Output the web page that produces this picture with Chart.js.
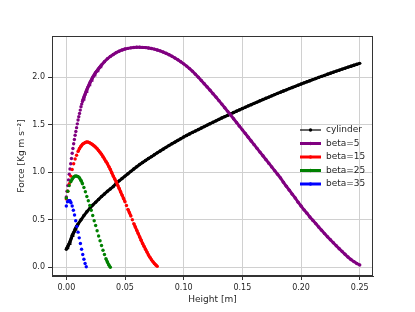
<!DOCTYPE html>
<html>
<head>
<meta charset="utf-8">
<script src="https://cdn.jsdelivr.net/npm/chart.js@4.4.1/dist/chart.umd.min.js"></script>
<style>
html,body{margin:0;padding:0;background:#fff;}
canvas{display:block;}
</style>
</head>
<body>
<canvas id="c" width="415" height="312" style="width:415px;height:312px"></canvas>
<script>
// ---- data (height in m, force in Kg m s^-2) ----
const xTicks = [0.00, 0.05, 0.10, 0.15, 0.20, 0.25];
const yTicks = [0.0, 0.5, 1.0, 1.5, 2.0];
const seriesNames = ["cylinder", "beta=5", "beta=15", "beta=25", "beta=35"];

// cylinder: dense (0.000625 m) up to 0.01, then every 0.0025 m to 0.25
const cylinderStepA = 0.000625;
const cylinderForceA = [0.19,0.205,0.22,0.235,0.25,0.27,0.29,0.31,0.335,0.35,0.365,0.38,0.40,0.415,0.43,0.443];
const cylinderStartB = 0.01;
const cylinderStepB = 0.0025;
const cylinderForceB = [0.455,0.50,0.545,0.585,0.62,0.655,0.685,0.715,0.745,0.772,0.80,0.825,0.85,0.885,0.91,0.935,0.96,
0.985,1.01,1.035,1.058,1.082,1.103,1.124,1.145,1.165,1.185,1.205,1.225,1.244,1.263,1.282,1.30,1.318,1.336,1.354,1.372,
1.388,1.404,1.42,1.435,1.45,1.466,1.481,1.497,1.512,1.527,1.542,1.557,1.572,1.586,1.60,1.615,1.629,1.643,1.657,1.671,
1.685,1.699,1.712,1.726,1.739,1.753,1.766,1.779,1.792,1.805,1.818,1.831,1.843,1.856,1.868,1.881,1.893,1.905,1.917,1.929,
1.941,1.953,1.964,1.976,1.987,1.999,2.01,2.021,2.032,2.043,2.054,2.065,2.075,2.086,2.096,2.107,2.117,2.127,2.137,2.147];

// beta=5: dense (0.000625 m) up to 0.03, then every 0.0025 m to 0.25
const beta5StepA = 0.000625;
const beta5ForceA = [0.74,0.80,0.86,0.92,0.98,1.035,1.09,1.145,1.20,1.25,1.30,1.345,1.39,1.43,1.47,1.51,1.55,1.585,1.62,1.655,
1.69,1.718,1.745,1.768,1.79,1.81,1.83,1.85,1.87,1.888,1.905,1.922,1.94,1.955,1.97,1.985,2.00,2.013,2.025,2.038,
2.05,2.06,2.07,2.08,2.09,2.10,2.11,2.12];
const beta5StartB = 0.03;
const beta5StepB = 0.0025;
const beta5ForceB = [2.13,2.165,2.195,2.22,2.24,2.26,2.275,2.288,2.298,2.305,
2.31,2.314,2.316,2.316,2.315,2.313,2.309,2.304,2.297,2.288,
2.278,2.266,2.253,2.238,2.222,2.204,2.185,2.164,2.142,2.118,
2.092,2.064,2.032,2.0,1.967,1.933,1.899,1.864,1.828,1.792,
1.755,1.718,1.68,1.642,1.603,1.564,1.525,1.486,1.447,1.408,
1.369,1.33,1.291,1.252,1.213,1.174,1.135,1.096,1.057,1.018,
0.979,0.94,0.895,0.853,0.812,0.77,0.73,0.685,0.645,0.605,
0.57,0.53,0.495,0.46,0.425,0.39,0.355,0.322,0.29,0.258,
0.227,0.196,0.166,0.137,0.108,0.082,0.06,0.04,0.024];

// beta=15, 25: every 0.00125 m from 0; beta=35: every 0.001 m
const beta15Step = 0.00125;
const beta15Force = [0.72,0.80,0.88,0.96,1.03,1.09,1.14,1.18,1.22,1.25,1.275,1.295,1.305,1.315,1.32,1.318,1.31,1.30,1.29,1.278,
1.265,1.248,1.23,1.21,1.19,1.165,1.14,1.115,1.09,1.06,1.03,0.995,0.96,0.93,0.90,0.865,0.83,0.795,0.76,0.725,
0.69,0.65,0.61,0.575,0.54,0.50,0.46,0.425,0.39,0.355,0.32,0.285,0.25,0.22,0.19,0.16,0.13,0.105,0.08,0.06,
0.04,0.025,0.01];
const beta25Step = 0.00125;
const beta25Force = [0.73,0.80,0.86,0.90,0.93,0.95,0.96,0.96,0.955,0.94,0.915,0.88,0.84,0.795,0.745,0.70,
0.65,0.60,0.545,0.49,0.44,0.385,0.33,0.28,0.23,0.18,0.135,0.09,0.055,0.025,0.0];
const beta35Step = 0.001;
const beta35Force = [0.645,0.69,0.70,0.70,0.68,0.645,0.60,0.55,0.49,0.43,0.37,0.31,0.25,0.19,0.135,0.085,0.04,0.005];

const colors = ["#000000", "#800080", "#ff0000", "#008000", "#0000ff"];

// ---- build points ----
function pts(ys, start, step) { return ys.map((y, i) => ({x: start + i * step, y: y})); }
const cylinderPts = pts(cylinderForceA, 0, cylinderStepA).concat(pts(cylinderForceB, cylinderStartB, cylinderStepB));
const beta5Pts = pts(beta5ForceA, 0, beta5StepA).concat(pts(beta5ForceB, beta5StartB, beta5StepB));
const beta15Pts = pts(beta15Force, 0, beta15Step);
const beta25Pts = pts(beta25Force, 0, beta25Step);
const beta35Pts = pts(beta35Force, 0, beta35Step);
const allPts = [cylinderPts, beta5Pts, beta15Pts, beta25Pts, beta35Pts];

// steep segments: show markers only (gaps between dots)
function steep(ctx) {
  const dx = Math.abs(ctx.p1.x - ctx.p0.x), dy = Math.abs(ctx.p1.y - ctx.p0.y);
  return dy > 2.4 * Math.max(dx, 0.01) && dy > 2.5;
}

const datasets = allPts.map((d, i) => ({
  label: seriesNames[i],
  data: d,
  showLine: true,
  borderColor: colors[i],
  backgroundColor: colors[i],
  borderWidth: 3,
  pointRadius: 1.7,
  pointBorderWidth: 0,
  pointBackgroundColor: colors[i],
  pointHoverRadius: 0,
  order: 5 - i,
  segment: { borderColor: ctx => steep(ctx) ? 'rgba(0,0,0,0)' : undefined }
}));

const FONT = "'DejaVu Sans', sans-serif";
const TXT = "#262626";

const framePlugin = {
  id: 'frame',
  afterDraw(chart) {
    const {ctx, chartArea: a} = chart;
    ctx.save();
    ctx.strokeStyle = '#333';
    ctx.lineWidth = 1;
    ctx.strokeRect(Math.round(a.left) + 0.5, Math.round(a.top) + 0.5, Math.round(a.right - a.left) - 1, Math.round(a.bottom - a.top) - 1);
    // legend (no frame)
    const x0 = 300, x1 = 321, tx = 326;
    const rows = [130, 143.5, 157, 170.5, 184];
    ctx.font = "9px " + FONT;
    ctx.textBaseline = 'middle';
    ctx.textAlign = 'left';
    seriesNames.forEach((name, i) => {
      const y = rows[i];
      ctx.strokeStyle = colors[i];
      ctx.lineWidth = i === 0 ? 1.2 : 3;
      ctx.beginPath(); ctx.moveTo(x0, y); ctx.lineTo(x1, y); ctx.stroke();
      ctx.fillStyle = colors[i];
      ctx.beginPath(); ctx.arc((x0 + x1) / 2, y, 1.7, 0, Math.PI * 2); ctx.fill();
      ctx.fillStyle = TXT;
      ctx.fillText(name, tx, y);
    });
    ctx.restore();
  }
};

new Chart(document.getElementById('c'), {
  type: 'scatter',
  data: { datasets },
  options: {
    responsive: false,
    devicePixelRatio: 1,
    animation: false,
    events: [],
    layout: { padding: { top: 36, right: 42, left: 0, bottom: 0 } },
    plugins: { legend: { display: false }, tooltip: { enabled: false } },
    scales: {
      x: {
        type: 'linear', min: -0.0122, max: 0.2613,
        afterBuildTicks: ax => { ax.ticks = xTicks.map(v => ({value: v})); },
        afterFit: ax => { ax.height = 36; },
        ticks: { callback: v => v.toFixed(2), font: { family: FONT, size: 8 }, color: TXT, padding: 3, maxRotation: 0, autoSkip: false },
        grid: { color: '#d0d0d0', lineWidth: 1, tickColor: '#333', tickLength: 4 },
        border: { display: true, color: '#333', width: 1 },
        title: { display: true, text: 'Height [m]', font: { family: FONT, size: 9 }, color: TXT, padding: { top: 0, bottom: 6.6 } }
      },
      y: {
        type: 'linear', min: -0.0916, max: 2.435,
        afterBuildTicks: ax => { ax.ticks = yTicks.map(v => ({value: v})); },
        afterFit: ax => { ax.width = 52; },
        ticks: { callback: v => v.toFixed(1), font: { family: FONT, size: 8 }, color: TXT, padding: 3, autoSkip: false },
        grid: { color: '#d0d0d0', lineWidth: 1, tickColor: '#333', tickLength: 4 },
        border: { display: true, color: '#333', width: 1 },
        title: { display: true, text: 'Force [Kg m s\u207B\u00B2]', font: { family: FONT, size: 9 }, color: TXT, padding: { top: 16.6, bottom: 0 } }
      }
    }
  },
  plugins: [framePlugin]
});
</script>
</body>
</html>
